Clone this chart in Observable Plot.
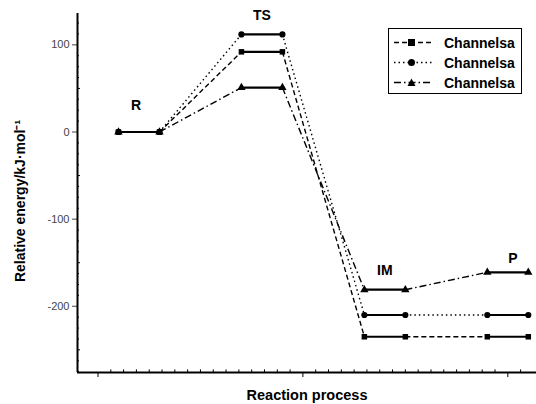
<!DOCTYPE html>
<html><head><meta charset="utf-8">
<script src="https://cdn.jsdelivr.net/npm/d3@7"></script>
<script src="https://cdn.jsdelivr.net/npm/@observablehq/plot@0.6"></script>
<style>
body{margin:0;background:#fff;font-family:"Liberation Sans",Arial,sans-serif;}
#wrap{position:relative;width:536px;height:404px;}
#legend{position:absolute;left:388px;top:28px;width:134px;height:66px;border:1px solid #000;box-sizing:border-box;background:#fff;}
.li{position:absolute;left:0;height:20px;display:flex;align-items:center;}
.li span{font-weight:bold;font-size:14px;color:#000;margin-left:8px;}
</style></head>
<body><div id="wrap"></div>
<script>
const states = ["R", "TS", "IM", "P"];
const seriesNames = ["Channelsa", "Channelsa", "Channelsa"];
const energySquare = [0, 92, -235, -235];
const energyCircle = [0, 112, -210, -210];
const energyTriangle = [0, 51, -181, -161];
const yTicks = [-200, -100, 0, 100];
const yTickLabels = ["-200", "-100", "0", "100"];

const series = [
  {name: seriesNames[0], values: energySquare, symbol: "square", dash: "5,3"},
  {name: seriesNames[1], values: energyCircle, symbol: "circle", dash: "1.5,3"},
  {name: seriesNames[2], values: energyTriangle, symbol: "triangle", dash: "7,3,1.5,3"}
];

const levels = [], dots = [];
series.forEach((s, k) => {
  s.links = [];
  s.values.forEach((v, i) => {
    levels.push({k, x1: i * 3, x2: i * 3 + 1, y: v});
    dots.push({k, x: i * 3, y: v, symbol: s.symbol});
    dots.push({k, x: i * 3 + 1, y: v, symbol: s.symbol});
    if (i < s.values.length - 1) {
      s.links.push({x1: i * 3 + 1, y1: v, x2: (i + 1) * 3, y2: s.values[i + 1]});
    }
  });
});
const labelDy = [-26, -19, -19, -14];
const labelDx = [-3, 0, 0, 5];
const labels = states.map((st, i) => ({
  text: st, x: i * 3 + 0.5,
  y: d3.max(series, s => s.values[i])
}));

const pxX = 1 / 41; // one pixel in x units
const yMinor = d3.range(-275, 136, 12.5).filter(v => Math.abs(v % 50) > 1e-6);
const yMid = d3.range(-250, 136, 50).filter(v => Math.abs(v % 100) > 1e-6);
const xMinor = d3.range(1, 34).map(j => -0.5 + j * 5 / 16).filter(v => v < 10.2 && Math.abs((v + 0.5) % 5) > 1e-6);

const chart = Plot.plot({
  width: 536, height: 404,
  marginLeft: 77, marginTop: 13, marginBottom: 32, marginRight: 0,
  style: {fontFamily: '"Liberation Sans", Arial, sans-serif', background: "#fff", overflow: "visible"},
  x: {domain: [-1, 10.2], axis: null},
  y: {domain: [-276, 136], axis: null},
  marks: [
    Plot.axisY({ticks: yTicks, tickFormat: d => yTickLabels[yTicks.indexOf(d)], tickSize: 5, tickPadding: 3, fontSize: 11, color: "#444",
      label: "Relative energy/kJ·mol⁻¹", labelAnchor: "center", labelOffset: 62, labelArrow: "none"}),
    Plot.ruleY(yMid, {y: d => d, x1: -1, x2: -1 + 3 * pxX, stroke: "#000", strokeWidth: 1}),
    Plot.ruleY(yMinor, {y: d => d, x1: -1, x2: -1 + 2 * pxX, stroke: "#000", strokeWidth: 1}),
    Plot.axisX({ticks: [-0.5, 4.5, 9.5], tickFormat: () => "", tickSize: 5,
      label: "Reaction process", labelAnchor: "center", labelOffset: 27, labelArrow: "none"}),
    Plot.ruleX(xMinor, {x: d => d, y1: -276, y2: -273, stroke: "#000"}),
    Plot.ruleX([-1], {stroke: "#000", strokeWidth: 2}),
    Plot.ruleY([-276], {stroke: "#000", strokeWidth: 2}),
    ...series.map(s => Plot.link(s.links, {x1: "x1", y1: "y1", x2: "x2", y2: "y2", stroke: "#000", strokeWidth: 1.4, strokeDasharray: s.dash})),
    Plot.link(levels, {x1: "x1", y1: "y", x2: "x2", y2: "y", stroke: "#000", strokeWidth: 2.2}),
    Plot.dot(dots, {x: "x", y: "y", symbol: "symbol", fill: "#000", r: 3.1}),
    ...labels.map((l, i) => Plot.text([l], {x: "x", y: "y", text: "text", dx: labelDx[i], dy: labelDy[i], fontSize: 14, fontWeight: "bold", fill: "#000"}))
  ]
});
document.getElementById("wrap").appendChild(chart);

chart.querySelectorAll('g[aria-label="x-axis label"] text').forEach(t => {
  t.setAttribute("font-weight", "bold"); t.setAttribute("font-size", "14.5"); t.setAttribute("fill", "#000");
});
chart.querySelectorAll('g[aria-label="y-axis label"] text').forEach(t => {
  t.setAttribute("font-weight", "bold"); t.setAttribute("font-size", "14"); t.setAttribute("fill", "#000");
  const tr = t.getAttribute("transform") || "";
  t.setAttribute("transform", "translate(0,8) " + tr);
});

// Legend
const leg = document.createElement("div");
leg.id = "legend";
const markerSvg = (sym) => sym === "square" ? '<rect x="17" y="6" width="7" height="7" fill="#000"/>'
  : sym === "circle" ? '<circle cx="20.5" cy="9.5" r="3.5" fill="#000"/>'
  : '<path d="M20.5,5.5 L24.5,13 L16.5,13 Z" fill="#000"/>';
series.forEach((s, k) => {
  const row = document.createElement("div");
  row.className = "li";
  row.style.top = (4 + k * 20) + "px";
  row.innerHTML = `<svg width="45" height="20" style="margin-left:2px"><line x1="3" y1="9.5" x2="41" y2="9.5" stroke="#000" stroke-width="1.4" stroke-dasharray="${s.dash}"/>${markerSvg(s.symbol)}</svg><span>${s.name}</span>`;
  leg.appendChild(row);
});
document.getElementById("wrap").appendChild(leg);
</script>
</body></html>
